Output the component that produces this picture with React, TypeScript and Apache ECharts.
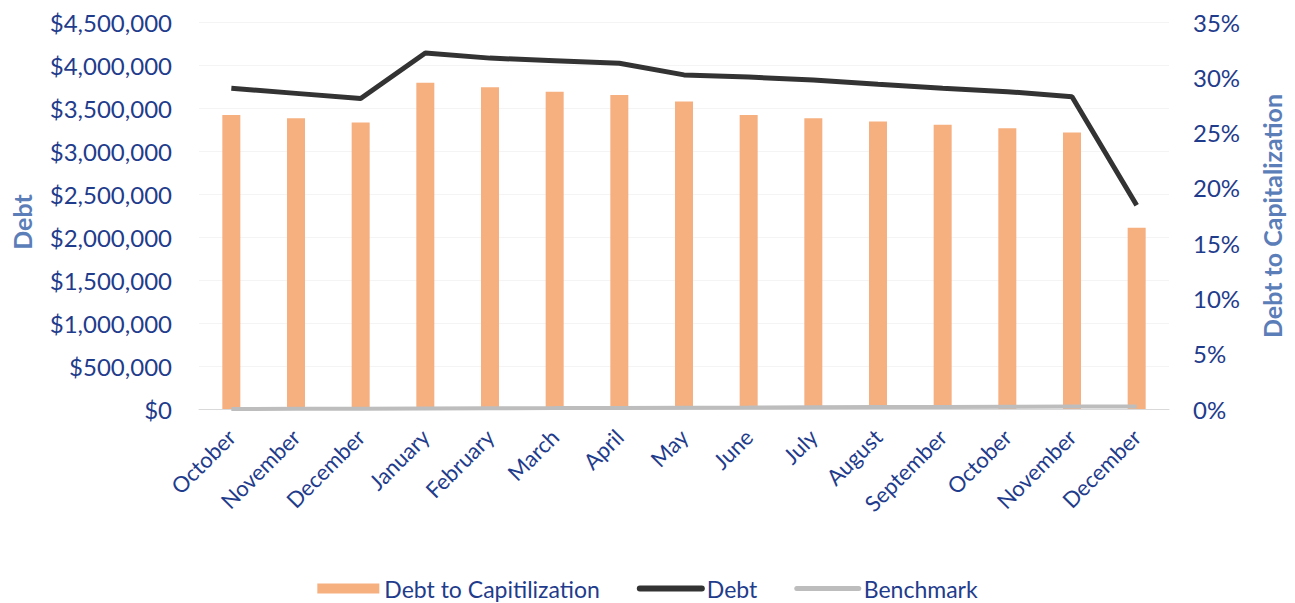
import React, { useEffect, useRef } from "react";
import * as echarts from "echarts";

const categories = [
  "October", "November", "December", "January", "February", "March", "April",
  "May", "June", "July", "August", "September", "October", "November", "December",
];
// Debt to Capitalization (%), right axis
const debtToCap = [26.6, 26.3, 25.9, 29.5, 29.1, 28.7, 28.4, 27.8, 26.6, 26.3, 26.0, 25.7, 25.4, 25.0, 16.4];
// Debt ($), left axis
const debt = [3730000, 3670000, 3610000, 4140000, 4080000, 4050000, 4020000, 3885000, 3860000, 3825000, 3775000, 3730000, 3690000, 3630000, 2370000];
// Benchmark (%), right axis
const benchmark = [0.0, 0.02, 0.03, 0.05, 0.07, 0.08, 0.1, 0.12, 0.13, 0.15, 0.17, 0.18, 0.2, 0.22, 0.23];

const FONT = "Lato";
const TICK = "#1f3c8c";
const TITLE = "#5b7db8";

export default function App() {
  const ref = useRef<HTMLDivElement>(null);
  useEffect(() => {
    if (!ref.current) return;
    const chart = echarts.init(ref.current, null, { renderer: "svg" });
    chart.setOption({
      animation: false,
      backgroundColor: "#ffffff",
      textStyle: { fontFamily: FONT },
      grid: { left: 199, right: 126, top: 22, bottom: 194, containLabel: false },
      legend: {
        top: 572,
        left: "center",
        itemWidth: 62,
        itemHeight: 10,
        itemGap: 37,
        textStyle: { color: TICK, fontSize: 23, fontFamily: FONT },
        data: [
          { name: "Debt to Capitilization", icon: "rect" },
          {
            name: "Debt",
            itemStyle: { opacity: 0 },
            lineStyle: { width: 6, color: "#333333", cap: "round" },
          },
          {
            name: "Benchmark",
            itemStyle: { opacity: 0 },
            lineStyle: { width: 5, color: "#bdbdbd", cap: "round" },
          },
        ],
      },
      xAxis: {
        type: "category",
        data: categories,
        axisLine: { show: true, lineStyle: { color: "#d9d9d9", width: 1 } },
        axisTick: { show: false },
        axisLabel: { rotate: 45, color: TICK, fontSize: 22, fontFamily: FONT, margin: 24, interval: 0 },
      },
      yAxis: [
        {
          type: "value",
          min: 0,
          max: 4500000,
          interval: 500000,
          axisLine: { show: false },
          axisTick: { show: false },
          splitLine: { show: true, lineStyle: { color: "#f4f4f4", width: 1 } },
          axisLabel: {
            color: TICK,
            fontSize: 24,
            fontFamily: FONT,
            margin: 27,
            formatter: (v: number) => "$" + v.toLocaleString("en-US"),
          },
        },
        {
          type: "value",
          min: 0,
          max: 35,
          interval: 5,
          axisLine: { show: false },
          axisTick: { show: false },
          splitLine: { show: false },
          axisLabel: { color: TICK, fontSize: 24, fontFamily: FONT, margin: 24, formatter: "{value}%" },
        },
      ],
      graphic: [
        {
          type: "text",
          x: 22,
          y: 222,
          rotation: Math.PI / 2,
          style: {
            text: "Debt",
            fill: TITLE,
            font: `bold 25px ${FONT}`,
            textAlign: "center",
            textVerticalAlign: "middle",
          },
        },
        {
          type: "text",
          x: 1272,
          y: 216,
          rotation: Math.PI / 2,
          style: {
            text: "Debt to Capitalization",
            fill: TITLE,
            font: `bold 25px ${FONT}`,
            textAlign: "center",
            textVerticalAlign: "middle",
          },
        },
      ],
      series: [
        {
          name: "Debt to Capitilization",
          type: "bar",
          yAxisIndex: 1,
          data: debtToCap,
          barWidth: 18,
          itemStyle: { color: "#f6b07f" },
        },
        {
          name: "Debt",
          type: "line",
          yAxisIndex: 0,
          data: debt,
          symbol: "none",
          lineStyle: { color: "#333333", width: 5 },
          itemStyle: { color: "#333333" },
          z: 5,
        },
        {
          name: "Benchmark",
          type: "line",
          yAxisIndex: 1,
          data: benchmark,
          symbol: "none",
          lineStyle: { color: "#bdbdbd", width: 4 },
          itemStyle: { color: "#bdbdbd" },
          z: 4,
        },
      ],
    });
    return () => chart.dispose();
  }, []);
  return (
    <div
      ref={ref}
      style={{ position: "absolute", left: 0, top: 0, width: 1295, height: 603 }}
    />
  );
}
